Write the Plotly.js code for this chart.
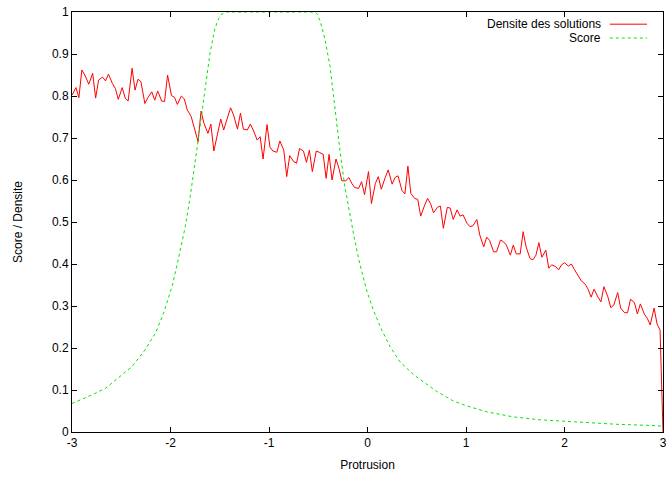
<!DOCTYPE html>
<html>
<head>
<meta charset="utf-8">
<script src="https://cdn.plot.ly/plotly-3.0.1.min.js"></script>
<style>html,body{margin:0;padding:0;background:#fff;}#chart{width:666px;height:478px;}</style>
</head>
<body>
<div id="chart"></div>
<script>
const densX = [-3.00,-2.96,-2.93,-2.90,-2.87,-2.83,-2.79,-2.76,-2.73,-2.69,-2.66,-2.63,-2.59,-2.56,-2.53,-2.49,-2.46,-2.43,-2.39,-2.36,-2.33,-2.30,-2.26,-2.23,-2.19,-2.16,-2.13,-2.09,-2.06,-2.03,-1.99,-1.96,-1.93,-1.89,-1.86,-1.83,-1.79,-1.76,-1.72,-1.69,-1.66,-1.62,-1.59,-1.56,-1.52,-1.49,-1.46,-1.42,-1.39,-1.36,-1.32,-1.29,-1.26,-1.22,-1.19,-1.16,-1.12,-1.09,-1.06,-1.02,-0.99,-0.96,-0.92,-0.89,-0.85,-0.82,-0.79,-0.75,-0.72,-0.69,-0.65,-0.62,-0.59,-0.56,-0.52,-0.49,-0.45,-0.42,-0.39,-0.36,-0.32,-0.29,-0.26,-0.22,-0.19,-0.16,-0.13,-0.09,-0.06,-0.03,0.01,0.04,0.08,0.11,0.14,0.18,0.21,0.25,0.28,0.31,0.35,0.38,0.41,0.44,0.48,0.51,0.54,0.58,0.61,0.64,0.67,0.71,0.74,0.77,0.81,0.84,0.87,0.91,0.94,0.97,1.01,1.04,1.07,1.11,1.14,1.18,1.21,1.24,1.28,1.31,1.35,1.38,1.41,1.45,1.48,1.51,1.55,1.58,1.61,1.65,1.68,1.71,1.74,1.77,1.81,1.84,1.87,1.91,1.94,1.97,2.00,2.04,2.07,2.10,2.14,2.17,2.21,2.24,2.27,2.30,2.34,2.37,2.40,2.44,2.47,2.50,2.54,2.57,2.61,2.64,2.67,2.71,2.74,2.77,2.81,2.84,2.87,2.91,2.94,2.97,3.00];
const densY = [0.802,0.820,0.796,0.862,0.850,0.828,0.854,0.795,0.838,0.845,0.836,0.852,0.830,0.818,0.792,0.820,0.795,0.788,0.866,0.814,0.840,0.834,0.782,0.796,0.810,0.790,0.812,0.788,0.787,0.850,0.801,0.797,0.780,0.800,0.793,0.767,0.751,0.723,0.691,0.764,0.735,0.711,0.733,0.669,0.715,0.745,0.719,0.751,0.772,0.755,0.721,0.759,0.721,0.719,0.733,0.719,0.695,0.703,0.650,0.732,0.678,0.669,0.666,0.693,0.671,0.608,0.658,0.644,0.640,0.675,0.669,0.642,0.671,0.620,0.669,0.666,0.661,0.604,0.661,0.600,0.650,0.628,0.598,0.598,0.606,0.592,0.582,0.580,0.596,0.565,0.620,0.544,0.592,0.608,0.578,0.606,0.624,0.590,0.606,0.610,0.575,0.567,0.633,0.568,0.556,0.554,0.514,0.540,0.556,0.544,0.522,0.535,0.538,0.485,0.535,0.533,0.506,0.529,0.514,0.517,0.497,0.489,0.491,0.506,0.469,0.441,0.464,0.456,0.429,0.429,0.457,0.453,0.445,0.421,0.445,0.424,0.424,0.477,0.441,0.413,0.410,0.421,0.451,0.416,0.433,0.390,0.398,0.394,0.386,0.398,0.403,0.395,0.400,0.387,0.371,0.360,0.352,0.340,0.321,0.340,0.321,0.310,0.346,0.322,0.296,0.302,0.332,0.295,0.284,0.284,0.316,0.308,0.281,0.305,0.281,0.271,0.255,0.295,0.257,0.243,0.000];

const scoreX = [-3.00,-2.80,-2.66,-2.53,-2.39,-2.26,-2.15,-2.07,-1.98,-1.92,-1.85,-1.80,-1.75,-1.70,-1.65,-1.60,-1.55,-1.51,-1.48,-1.45,-1.43,-0.53,-0.51,-0.48,-0.43,-0.38,-0.35,-0.31,-0.28,-0.23,-0.18,-0.13,-0.08,-0.01,0.06,0.14,0.23,0.33,0.47,0.63,0.70,0.87,1.01,1.21,1.48,1.75,2.02,2.29,2.56,2.83,3.00];
const scoreY = [0.068,0.088,0.104,0.128,0.156,0.195,0.237,0.283,0.350,0.412,0.489,0.560,0.640,0.727,0.814,0.900,0.960,0.985,0.995,0.999,1.000,1.000,0.995,0.978,0.933,0.870,0.806,0.735,0.671,0.584,0.518,0.457,0.402,0.338,0.290,0.245,0.203,0.167,0.136,0.110,0.097,0.074,0.062,0.048,0.036,0.029,0.025,0.021,0.018,0.016,0.014];

const seriesNames = ["Densite des solutions", "Score"];
const xTicks = [-3,-2,-1,0,1,2,3];
const yTicks = [0,0.1,0.2,0.3,0.4,0.5,0.6,0.7,0.8,0.9,1];

const RED = "#ff0000", GREEN = "#00e600";
const FONT = {family: "Liberation Sans, Arial, sans-serif", size: 12, color: "#000"};

const traces = [
  {x: densX, y: densY, mode: "lines", name: seriesNames[0], line: {color: RED, width: 1}, showlegend: false},
  {x: scoreX, y: scoreY, mode: "lines", name: seriesNames[1], line: {color: GREEN, width: 1, dash: "3px,3px"}, showlegend: false}
];

const axisCommon = {
  showgrid: false, zeroline: false, showline: true, linecolor: "#000", linewidth: 1,
  mirror: "ticks", ticks: "inside", ticklen: 5, tickcolor: "#000", tickwidth: 1,
  tickfont: FONT, ticklabeloverflow: "allow"
};

const layout = {
  width: 666, height: 478,
  margin: {l: 72, r: 3, t: 12, b: 46},
  paper_bgcolor: "#fff", plot_bgcolor: "#fff",
  font: FONT,
  xaxis: Object.assign({}, axisCommon, {range: [-3, 3], tickvals: xTicks, ticktext: xTicks.map(String),
    title: {text: "Protrusion", font: FONT, standoff: 11}}),
  yaxis: Object.assign({}, axisCommon, {range: [0, 1], tickvals: yTicks, ticktext: yTicks.map(String),
    title: {text: "Score / Densite", font: FONT, standoff: 26}}),
  annotations: [
    {xref: "paper", yref: "paper", x: 0.899, y: 0.971, xanchor: "right", yanchor: "middle", text: seriesNames[0], showarrow: false, font: FONT},
    {xref: "paper", yref: "paper", x: 0.899, y: 0.938, xanchor: "right", yanchor: "middle", text: seriesNames[1], showarrow: false, font: FONT}
  ],
  shapes: [
    {type: "line", xref: "paper", yref: "paper", x0: 0.910, x1: 0.973, y0: 0.971, y1: 0.971, line: {color: RED, width: 1}},
    {type: "line", xref: "paper", yref: "paper", x0: 0.910, x1: 0.973, y0: 0.938, y1: 0.938, line: {color: GREEN, width: 1, dash: "3px,3px"}}
  ]
};

Plotly.newPlot("chart", traces, layout, {displayModeBar: false, staticPlot: true});
</script>
</body>
</html>
